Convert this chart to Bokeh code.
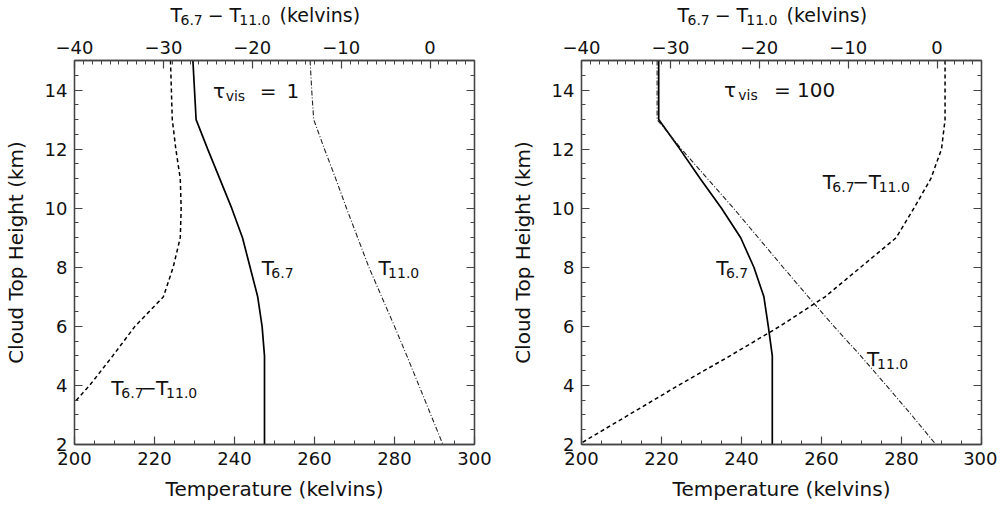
import numpy as np
from bokeh.plotting import figure
from bokeh.models import Range1d, LinearAxis, FixedTicker, Label
from bokeh.layouts import row, column
from bokeh.core.properties import value
from bokeh.embed import file_html
from bokeh.resources import INLINE

# ---------------- data ----------------
heights = [15, 14, 13, 12, 11, 10, 9, 8, 7, 6, 5, 4, 3, 2]

# tau_vis = 1
t67_tau1 = [229.6, 230.0, 230.4, 233.3, 236.3, 239.3, 242.0, 243.9, 245.8, 246.9, 247.5, 247.5, 247.5, 247.5]
t11_tau1 = [258.9, 259.3, 259.8, 262.5, 265.3, 268.0, 270.8, 273.6, 276.8, 280.0, 283.1, 286.1, 289.1, 292.1]
diff_tau1 = [-29.2, -29.1, -29.0, -28.6, -28.1, -28.0, -28.1, -28.9, -30.0, -33.2, -35.7, -38.3, -41.3, -44.5]

# tau_vis = 100
t67_tau100 = [219.3, 219.3, 219.3, 224.6, 229.7, 235.0, 239.8, 243.1, 245.6, 246.7, 247.7, 247.7, 247.7, 247.7]
t11_tau100 = [218.9, 218.9, 218.9, 225.0, 231.5, 238.0, 244.2, 250.4, 256.7, 263.1, 269.8, 276.2, 282.5, 288.6]
diff_tau100 = [0.9, 0.9, 0.9, 0.5, -0.7, -2.6, -4.6, -8.6, -12.6, -17.7, -23.3, -29.1, -34.7, -40.3]

temp_ticks = [200, 220, 240, 260, 280, 300]
diff_ticks = [-40, -30, -20, -10, 0]
height_ticks = [2, 4, 6, 8, 10, 12, 14]

x_label = "Temperature (kelvins)"
y_label = "Cloud Top Height (km)"
tau_values = ["1", "100"]

# top-axis title pieces: (text, x in kelvins, is_subscript)
top_title = [("T", 224.0, False), ("6.7", 226.5, True), ("\u2212", 233.3, False),
             ("T", 238.75, False), ("11.0", 241.2, True), ("(kelvins)", 251.25, False)]

FONT = "DejaVu Sans"
AX = "#444444"
TXT = "#111111"


def style_axis(ax, ticks, minor, show_labels=True):
    ax.ticker = FixedTicker(ticks=ticks, minor_ticks=minor)
    ax.major_tick_in = 8
    ax.major_tick_out = 0
    ax.minor_tick_in = 4
    ax.minor_tick_out = 0
    ax.axis_line_color = AX
    ax.axis_line_width = 1.3
    ax.major_tick_line_color = AX
    ax.major_tick_line_width = 1.2
    ax.minor_tick_line_color = AX
    ax.minor_tick_line_width = 1.0
    ax.major_label_text_font = FONT
    ax.major_label_text_font_size = "18px"
    ax.major_label_text_color = TXT
    ax.major_label_standoff = 7
    if show_labels:
        ax.major_label_overrides = {t: str(t).replace("-", "\u2212") for t in ticks}
    else:
        ax.major_label_overrides = {t: "" for t in ticks}
        ax.major_label_standoff = 0
    ax.axis_label_text_font = FONT
    ax.axis_label_text_font_size = "20px"
    ax.axis_label_text_font_style = "normal"
    ax.axis_label_text_color = TXT


def piece(p, x, y, text, size, sub=False, align="left"):
    p.add_layout(Label(x=x, y=y, text=text,
                       text_font=FONT, text_font_size=f"{size}px", text_color=TXT,
                       text_align=align, text_baseline="alphabetic",
                       y_offset=-5 if sub else 0))


def make_title(border_right):
    t = figure(frame_width=400, frame_height=30, x_range=Range1d(200, 300),
               y_range=Range1d(0, 30), output_backend="svg", toolbar_location=None,
               min_border=0, min_border_left=69, min_border_right=border_right,
               min_border_top=0, min_border_bottom=0,
               x_axis_location=None, y_axis_location=None)
    t.xgrid.visible = False
    t.ygrid.visible = False
    t.outline_line_color = None
    main = [(s, x) for (s, x, sub) in top_title if not sub]
    subs = [(s, x) for (s, x, sub) in top_title if sub]
    t.text(x=[m[1] for m in main], y=[15.6] * len(main), text=[m[0] for m in main],
           text_font=value(FONT), text_font_size="19px", text_color=TXT,
           text_baseline="alphabetic", text_align="left")
    t.text(x=[s[1] for s in subs], y=[11.0] * len(subs), text=[s[0] for s in subs],
           text_font=value(FONT), text_font_size="14px", text_color=TXT,
           text_baseline="alphabetic", text_align="left")
    return t


def make_panel(t67, t11, diff, border_right, labels):
    p = figure(frame_width=400, frame_height=384, x_range=Range1d(200, 300),
               y_range=Range1d(2, 15), output_backend="svg", toolbar_location=None,
               min_border_left=69, min_border_right=border_right,
               min_border_top=30, min_border_bottom=62)
    p.xgrid.visible = False
    p.ygrid.visible = False
    p.outline_line_color = AX
    p.outline_line_width = 1.3
    p.extra_x_ranges = {"diff": Range1d(-40, 5)}

    bottom = p.xaxis[0]
    style_axis(bottom, temp_ticks, list(range(200, 301, 5)))
    bottom.axis_label = x_label
    bottom.axis_label_standoff = 9

    left = p.yaxis[0]
    style_axis(left, height_ticks, list(np.arange(2, 15.01, 0.5)))
    left.axis_label = y_label
    left.axis_label_standoff = 14

    top = LinearAxis(x_range_name="diff")
    style_axis(top, diff_ticks, list(range(-40, 6)))
    p.add_layout(top, "above")

    right = LinearAxis()
    style_axis(right, height_ticks, list(np.arange(2, 15.01, 0.5)), show_labels=False)
    p.add_layout(right, "right")

    p.line(t67, heights, line_color="black", line_width=1.7)
    p.line(t11, heights, line_color="#222222", line_width=1.1, line_dash="5 2 1 2")
    p.line(diff, heights, line_color="black", line_width=1.5, line_dash="4 3",
           x_range_name="diff")

    for (x, y, text, size, sub, align) in labels:
        piece(p, x, y, text, size, sub=sub, align=align)
    return p


labels_tau1 = [
    (234.6, 13.98, "\u03c4", 20, False, "left"),
    (237.8, 13.98, "vis", 14, True, "left"),
    (246.3, 13.98, "=", 20, False, "left"),
    (253.0, 13.98, tau_values[0], 20, False, "left"),
    (246.8, 7.99, "T", 20, False, "left"),
    (249.2, 7.99, "6.7", 14, True, "left"),
    (276.0, 7.99, "T", 20, False, "left"),
    (278.4, 7.99, "11.0", 14, True, "left"),
    (209.2, 3.92, "T", 20, False, "left"),
    (211.7, 3.92, "6.7", 14, True, "left"),
    (218.5, 3.92, "\u2212", 20, False, "center"),
    (220.4, 3.92, "T", 20, False, "left"),
    (222.9, 3.92, "11.0", 14, True, "left"),
]
labels_tau100 = [
    (235.6, 14.0, "\u03c4", 20, False, "left"),
    (239.2, 14.0, "vis", 14, True, "left"),
    (248.1, 14.0, "=", 20, False, "left"),
    (253.9, 14.0, tau_values[1], 20, False, "left"),
    (233.7, 7.99, "T", 20, False, "left"),
    (236.1, 7.99, "6.7", 14, True, "left"),
    (271.4, 4.88, "T", 20, False, "left"),
    (273.9, 4.88, "11.0", 14, True, "left"),
    (260.3, 10.87, "T", 20, False, "left"),
    (262.7, 10.87, "6.7", 14, True, "left"),
    (269.8, 10.87, "\u2212", 20, False, "center"),
    (271.8, 10.87, "T", 20, False, "left"),
    (274.3, 10.87, "11.0", 14, True, "left"),
]

p1 = make_panel(t67_tau1, t11_tau1, diff_tau1, 33, labels_tau1)
p2 = make_panel(t67_tau100, t11_tau100, diff_tau100, 16, labels_tau100)
t1 = make_title(33)
t2 = make_title(16)

layout = row(column(t1, p1), column(t2, p2))
open("out.html", "w").write(file_html(layout, INLINE))
